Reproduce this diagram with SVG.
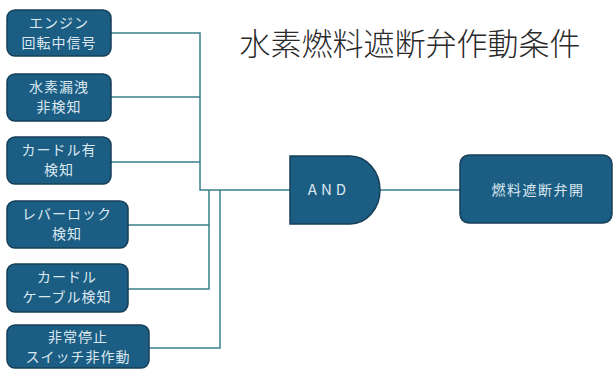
<svg xmlns="http://www.w3.org/2000/svg" width="613" height="370" viewBox="0 0 613 370">
<style>
.box{fill:#1c5d84;stroke:#163f58;stroke-width:1.5}
.t{font-family:"Noto Sans CJK JP","Noto Sans",sans-serif;font-size:14px;fill:#dbe8ef;text-anchor:middle;letter-spacing:1px}
.w{fill:none;stroke:#3a7f8c;stroke-width:1.5}
</style>
<rect width="613" height="370" fill="#ffffff"/>
<text x="410" y="55" font-family="'Noto Sans CJK JP',sans-serif" font-size="31" fill="#2a2a2a" text-anchor="middle" font-weight="300">水素燃料遮断弁作動条件</text>
<g id="connectors">
<path class="w" d="M111,33 H200 V190 H290"/>
<path class="w" d="M111,97 H200"/>
<path class="w" d="M111,162 H200"/>
<path class="w" d="M128,225 H209 V190"/>
<path class="w" d="M128,289 H209 V225"/>
<path class="w" d="M149,348 H220 V190"/>
<path class="w" d="M380,190 H460"/>
</g>
<g id="n1"><rect class="box" x="7" y="10" width="104" height="46" rx="8"/><text class="t" x="59" y="28">エンジン</text><text class="t" x="59" y="48">回転中信号</text></g>
<g id="n2"><rect class="box" x="7" y="74" width="104" height="47" rx="8"/><text class="t" x="59" y="92">水素漏洩</text><text class="t" x="59" y="112">非検知</text></g>
<g id="n3"><rect class="box" x="7" y="137" width="104" height="47" rx="8"/><text class="t" x="59" y="155">カードル有</text><text class="t" x="59" y="175">検知</text></g>
<g id="n4"><rect class="box" x="7" y="201" width="121" height="47" rx="8"/><text class="t" x="67" y="219">レバーロック</text><text class="t" x="67" y="239">検知</text></g>
<g id="n5"><rect class="box" x="7" y="264" width="121" height="48" rx="8"/><text class="t" x="67" y="282">カードル</text><text class="t" x="67" y="302">ケーブル検知</text></g>
<g id="n6"><rect class="box" x="7" y="325" width="142" height="43" rx="8"/><text class="t" x="78" y="342">非常停止</text><text class="t" x="78" y="362">スイッチ非作動</text></g>
<g id="and"><path class="box" d="M290,156 H350 A30,34 0 0 1 350,224 H290 Z"/><text class="t" x="329" y="195" style="letter-spacing:4px;font-size:15px" font-family="'Noto Sans',sans-serif">AND</text></g>
<g id="out"><rect class="box" x="460" y="155" width="152" height="68" rx="9"/><text class="t" x="538" y="195" style="letter-spacing:1.5px">燃料遮断弁開</text></g>
</svg>
